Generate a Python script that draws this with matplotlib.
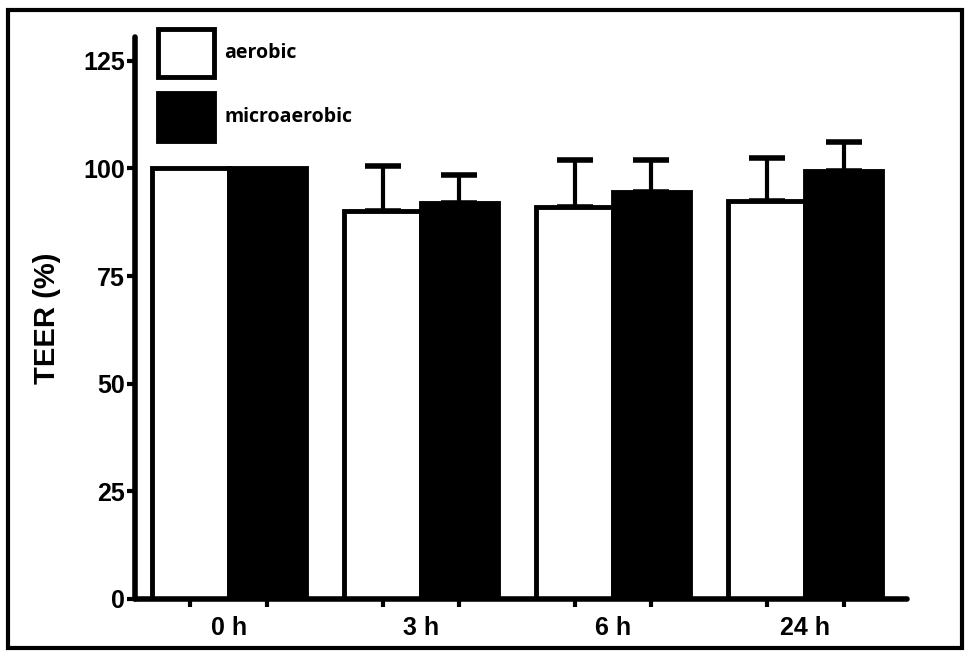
import numpy as np
import matplotlib
matplotlib.use("Agg")
from matplotlib import pyplot as plt
from matplotlib.patches import Rectangle

plt.rcParams['font.family'] = ['Liberation Sans', 'DejaVu Sans']

# data
times = ["0 h", "3 h", "6 h", "24 h"]
aerobic = [100, 90, 91, 92.5]
aerobic_err = [0, 10.5, 11, 10]
microaerobic = [100, 92, 94.5, 99.3]
microaerobic_err = [0, 6.5, 7.5, 6.8]
y_ticks = [0, 25, 50, 75, 100, 125]

fig = plt.figure(figsize=(9.69, 6.55), dpi=100)
ax = fig.add_axes([0.139, 0.0855, 0.797, 0.858])

x = np.arange(len(times))
w = 0.4
ax.bar(x - w / 2, aerobic, width=w, color='white', edgecolor='black', linewidth=3.5, label='aerobic', zorder=2)
ax.bar(x + w / 2, microaerobic, width=w, color='black', edgecolor='black', linewidth=3.5, label='microaerobic', zorder=2)

# upward-only error bars, skip zero
for xs, vals, errs in [(x - w / 2, aerobic, aerobic_err), (x + w / 2, microaerobic, microaerobic_err)]:
    for xi, v, e in zip(xs, vals, errs):
        if e > 0:
            ax.errorbar(xi, v, yerr=[[0], [e]], fmt='none', ecolor='black',
                        elinewidth=3, capsize=13, capthick=4, zorder=1)

ax.set_xlim(-0.49, 3.53)
ax.set_ylim(0, 130.5)
ax.set_yticks(y_ticks)
ax.set_yticklabels([str(t) for t in y_ticks], fontsize=18, fontweight='bold')
ax.set_xticks(x)
ax.set_xticklabels(times, fontsize=18, fontweight='bold')
ax.set_xticks(np.concatenate([x - w / 2, x + w / 2]), minor=True)
ax.tick_params(axis='x', which='major', length=0, pad=12)
ax.tick_params(axis='x', which='minor', direction='out', length=6, width=3)
ax.tick_params(axis='y', direction='out', length=6, width=3, pad=1)

for s in ['top', 'right']:
    ax.spines[s].set_visible(False)
for s in ['left', 'bottom']:
    ax.spines[s].set_linewidth(4)
    ax.spines[s].set_capstyle('round')

ax.set_ylabel("TEER (%)", fontsize=21, fontweight='bold', labelpad=16)

ax.legend(loc='upper left', bbox_to_anchor=(0.163, 0.956), bbox_transform=fig.transFigure,
          frameon=False, borderpad=0, borderaxespad=0, handlelength=2.9, handleheight=3.4,
          handletextpad=0.5, labelspacing=0.85, prop={'family': 'Open Sans', 'weight': 'bold', 'size': 14})

# outer frame around the whole picture
fig.patches.append(Rectangle((8 / 969, 1 - 648 / 655), 954 / 969, 638 / 655,
                             transform=fig.transFigure, fill=False, edgecolor='black', linewidth=3))

fig.savefig("out.png", dpi=100)
